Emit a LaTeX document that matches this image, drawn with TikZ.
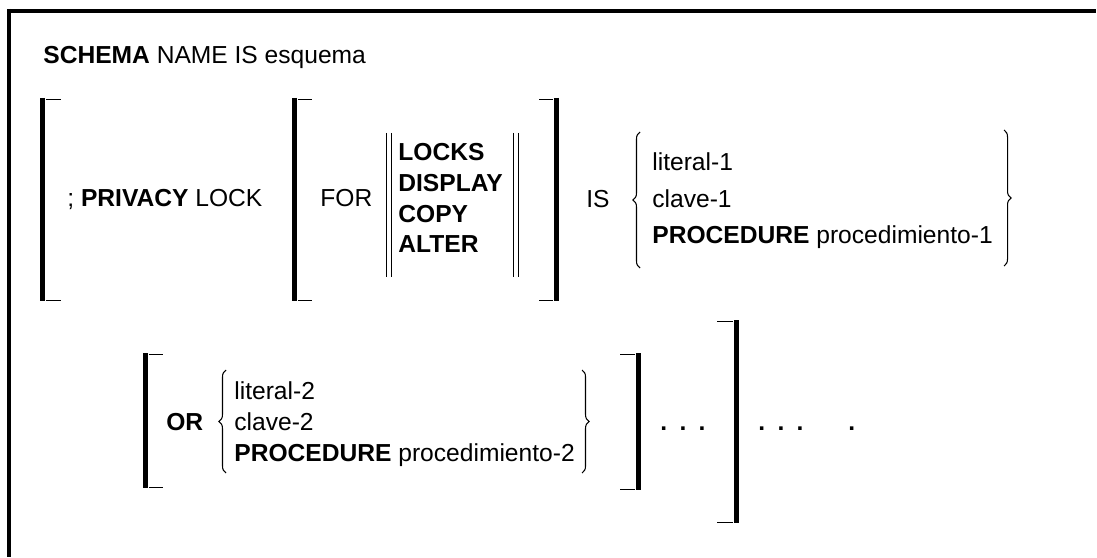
\documentclass[tikz,border=0pt]{standalone}
\usepackage{fontspec}
\setmainfont{Liberation Sans}
\usepackage{tikz}
\usetikzlibrary{decorations.pathreplacing}
\tikzset{
    % Text
    txt/.style={anchor=base west, inner sep=0pt, font=\fontsize{14}{17}\selectfont},
    kw/.style={txt, font=\fontsize{14}{17}\selectfont\bfseries},
    % Page rules and brackets
    rule/.style={line width=2.8pt},
    bar/.style={line width=2.6pt},
    tick/.style={line width=0.45pt},
    dbar/.style={line width=0.5pt},
    % Braces
    curly/.style={decorate, decoration={brace, amplitude=4pt}, line width=0.6pt},
}

\begin{document}
\begin{tikzpicture}[x=0.02cm, y=-0.02cm]
\useasboundingbox (0,0) rectangle (1097,557);

% Page rules
\draw[rule] (9,11) -- (1096,11);
\draw[rule] (9,9) -- (9,557);

\node[txt] (schema) at (43,64) {\textbf{SCHEMA} NAME IS esquema};

% Row 1
\draw[bar] (42.5,98) -- (42.5,301);
\draw[tick] (46,99) -- (61,99);
\draw[tick] (46,300) -- (61,300);
\node[txt] (privacy) at (67,206) {; \textbf{PRIVACY} LOCK};

\draw[bar] (294.5,98) -- (294.5,301);
\draw[tick] (298,99) -- (312,99);
\draw[tick] (298,300) -- (312,300);
\node[txt] (for) at (320,206) {FOR};

\draw[dbar] (386,133) -- (386,277);
\draw[dbar] (391,133) -- (391,277);
\node[kw] (locks) at (398,161) {LOCKS};
\node[kw] (display) at (398,192) {DISPLAY};
\node[kw] (copy) at (398,222) {COPY};
\node[kw] (alter) at (398,252) {ALTER};
\draw[dbar] (513,133) -- (513,277);
\draw[dbar] (518,133) -- (518,277);

\draw[bar] (556.5,98) -- (556.5,301);
\draw[tick] (539,99) -- (553,99);
\draw[tick] (539,300) -- (553,300);

\node[txt] (is) at (586,207) {IS};
\draw[curly] (640,268) -- (640,132);
\node[txt] (lit1) at (652,171) {literal-1};
\node[txt] (clave1) at (652,207) {clave-1};
\node[txt] (proc1) at (652,243) {\textbf{PROCEDURE} procedimiento-1};
\draw[curly] (1004,130) -- (1004,266);

% Row 2
\draw[bar] (145.5,353) -- (145.5,488);
\draw[tick] (149,354) -- (163,354);
\draw[tick] (149,487) -- (163,487);
\node[kw] (or) at (166,430) {OR};

\draw[curly] (226,473) -- (226,370);
\node[txt] (lit2) at (234,399) {literal-2};
\node[txt] (clave2) at (234,430) {clave-2};
\node[txt] (proc2) at (234,461) {\textbf{PROCEDURE} procedimiento-2};
\draw[curly] (582,370) -- (582,473);

\draw[bar] (638.5,353) -- (638.5,490);
\draw[tick] (620,354) -- (635,354);
\draw[tick] (620,489) -- (635,489);
\node[kw] (dotsA) at (660,430) {.\hspace{7pt}.\hspace{7pt}.};

\draw[bar] (736.5,320) -- (736.5,523);
\draw[tick] (717,321) -- (733,321);
\draw[tick] (717,522) -- (733,522);
\node[kw] (dotsB) at (758,430) {.\hspace{7pt}.\hspace{7pt}.};
\node[kw] (stop) at (848,430) {.};
\end{tikzpicture}
\end{document}
